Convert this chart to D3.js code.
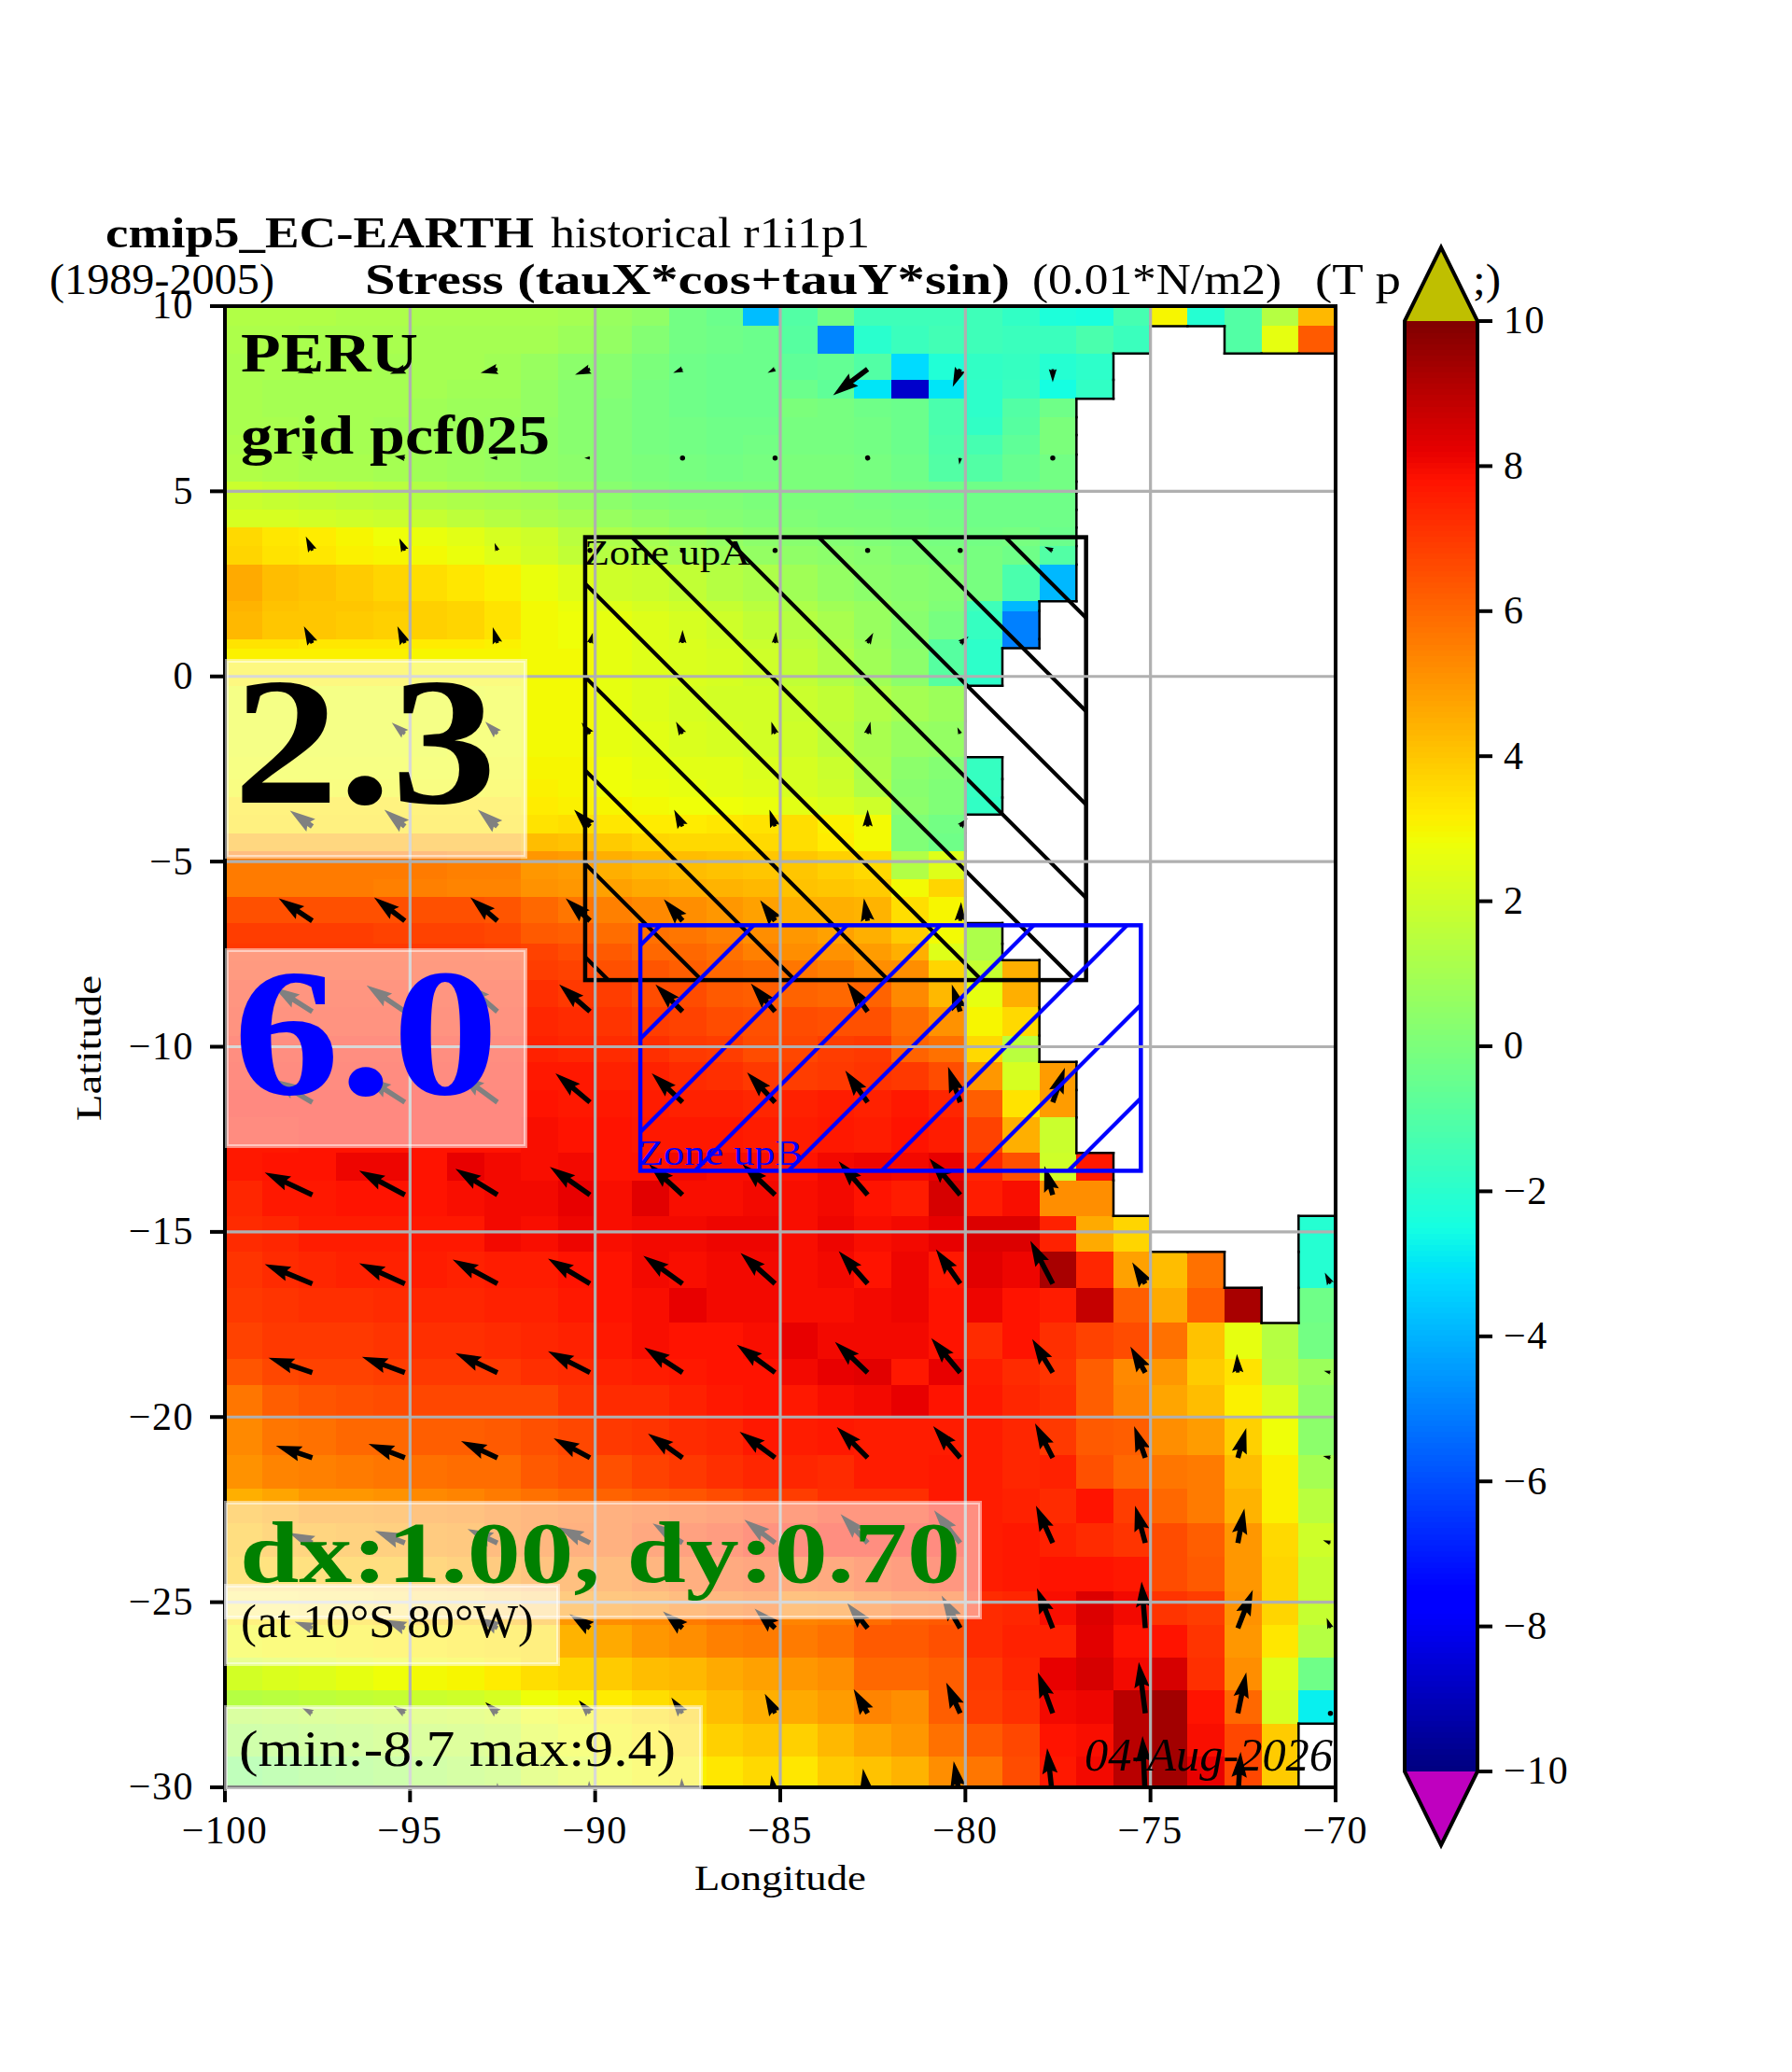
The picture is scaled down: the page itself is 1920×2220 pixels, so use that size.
<!DOCTYPE html>
<html>
<head>
  <meta charset="utf-8">
  <title>cmip5 EC-EARTH stress map</title>
  <script src="https://d3js.org/d3.v7.min.js"></script>
  <style>
    body { margin: 0; background: #fff; }
    text { font-family: "Liberation Serif", serif; fill: #000; }
  </style>
</head>
<body>
<div id="chart"></div>
<script>
// land cells are null
var _ = null;

// longitude of the left edge of the first cell, 1 degree wide cells
var lonEdges = d3.range(-100, -69, 1);

var latEdges = [10, 9.46, 8.72, 8.01, 7.5, 7, 6.52, 5.99, 5.26, 4.97, 4.5, 4.02, 3.52, 3.02, 2.03, 1.77, 1.01, 0.76,
  -0.25, -1.21, -2.18, -2.77, -3.27, -3.73, -4.23, -4.72, -5.48, -5.96, -6.66, -7.22, -7.66, -8.19, -8.94, -9.7,
  -10.41, -11.17, -11.91, -12.87, -13.61, -14.57, -15.54, -16.51, -17.46, -18.42, -19.13, -20.04, -21.02, -21.93,
  -22.86, -23.77, -24.71, -25.61, -26.49, -27.39, -28.28, -29.16, -30];

// one row per latitude band, north to south
var stress = [
  [1.3,1.3,1.3,1.2,1.2,1.1,1.1,1.1,1.1,1.0,0.7,0.5,-0.2,-0.4,-3.8,-1.0,-0.2,-1.5,-1.5,-1.5,-1.5,-1.8,-2.3,-2.4,-1.3,3.0,-2.1,-1.0,1.4,4.3],
  [1.2,1.2,1.1,1.1,1.1,1.0,1.0,1.0,1.0,0.8,0.6,0.2,-0.2,-0.3,-0.4,-0.9,-4.9,-2.0,-1.6,-1.4,-1.5,-1.6,-1.6,-1.2,-1.6,_,_,-1.0,2.6,6.3],
  [1.1,1.1,1.1,1.1,1.0,1.0,1.0,0.9,0.7,0.4,0.3,0.0,-0.3,-0.4,-0.4,-0.7,-0.6,-1.0,-3.2,-2.2,-1.8,-1.7,-2.1,-1.9,_,_,_,_,_,_],
  [1.1,1.0,1.0,1.0,1.0,1.0,0.9,0.9,0.6,0.3,0.2,-0.1,-0.3,-0.4,-0.4,-0.4,-0.7,-3.0,-8.7,-3.0,-1.9,-1.6,-2.5,-1.8,_,_,_,_,_,_],
  [1.1,1.0,1.0,1.0,1.0,0.9,0.8,0.8,0.6,0.3,0.1,-0.1,-0.3,-0.4,-0.4,0.0,-0.1,-0.3,-0.4,-1.2,-1.9,-1.0,-0.3,_,_,_,_,_,_,_],
  [1.1,1.1,1.0,1.0,0.9,0.9,0.8,0.7,0.5,0.3,0.1,-0.1,-0.2,-0.3,-0.3,-0.1,-0.1,-0.2,-0.4,-1.2,-1.8,-0.9,0.0,_,_,_,_,_,_,_],
  [1.2,1.1,1.1,1.0,1.0,0.9,0.8,0.7,0.5,0.3,0.1,-0.1,-0.2,-0.3,-0.2,-0.1,-0.1,-0.2,-0.4,-1.1,-1.3,-0.7,0.0,_,_,_,_,_,_,_],
  [1.3,1.2,1.1,1.1,1.0,0.9,0.8,0.7,0.5,0.4,0.1,0.0,-0.1,-0.2,-0.1,0.0,0.0,-0.1,-0.3,-1.0,-1.0,-0.5,-0.2,_,_,_,_,_,_,_],
  [1.9,1.8,1.7,1.6,1.5,1.3,1.1,1.0,0.9,0.6,0.3,0.1,0.0,0.0,0.0,0.0,0.0,-0.1,-0.2,-0.3,-0.3,-0.3,-0.2,_,_,_,_,_,_,_],
  [1.9,1.8,1.7,1.6,1.5,1.3,1.2,1.1,1.0,0.7,0.4,0.2,0.1,0.1,0.0,0.0,0.0,-0.1,-0.2,-0.3,-0.3,-0.3,-0.3,_,_,_,_,_,_,_],
  [2.2,2.2,2.1,2.0,1.9,1.8,1.6,1.4,1.2,1.0,0.7,0.5,0.3,0.2,0.1,0.1,0.0,0.0,-0.1,-0.2,-0.3,-0.3,-0.3,_,_,_,_,_,_,_],
  [3.6,3.3,3.2,3.0,2.8,2.7,2.5,2.2,2.0,1.5,1.2,1.0,0.8,0.6,0.4,0.3,0.2,0.1,0.0,-0.1,-0.2,-0.1,-0.4,_,_,_,_,_,_,_],
  [3.7,3.4,3.3,3.1,3.0,2.9,2.7,2.4,2.1,1.7,1.4,1.2,1.0,0.8,0.6,0.5,0.4,0.3,0.1,0.0,-0.1,-0.3,-1.0,_,_,_,_,_,_,_],
  [4.6,4.2,4.1,3.9,3.7,3.5,3.3,3.1,2.7,2.4,2.0,1.9,1.7,1.4,1.2,0.9,0.6,0.4,0.3,0.2,-0.1,-1.2,-3.9,_,_,_,_,_,_,_],
  [4.4,4.1,4.0,4.0,3.9,3.8,3.7,3.4,2.9,2.7,2.4,2.2,2.0,1.8,1.5,1.2,0.9,0.7,0.4,0.1,-1.5,-3.9,_,_,_,_,_,_,_,_],
  [4.3,4.0,4.0,3.9,3.8,3.8,3.7,3.4,2.9,2.8,2.6,2.4,2.2,2.0,1.7,1.4,1.1,0.7,0.3,-0.1,-1.7,-5.0,_,_,_,_,_,_,_,_],
  [3.4,3.4,3.3,3.3,3.3,3.2,3.2,3.1,2.9,2.8,2.6,2.4,2.3,2.1,1.9,1.6,1.2,0.8,0.3,-0.9,-1.9,-5.0,_,_,_,_,_,_,_,_],
  [3.1,3.1,3.1,3.1,3.1,3.0,3.0,3.0,2.9,2.9,2.6,2.4,2.3,2.2,2.0,1.7,1.3,0.9,0.4,-0.9,-1.9,_,_,_,_,_,_,_,_,_],
  [2.7,2.7,2.7,2.7,2.7,2.7,2.7,2.8,2.9,2.9,2.6,2.4,2.2,2.1,2.1,1.9,1.7,1.3,1.0,0.8,_,_,_,_,_,_,_,_,_,_],
  [2.7,2.7,2.7,2.7,2.7,2.7,2.8,2.8,2.9,2.9,2.6,2.5,2.3,2.2,2.1,2.0,1.6,1.1,0.7,0.6,_,_,_,_,_,_,_,_,_,_],
  [2.8,2.8,2.8,2.8,2.8,2.8,2.8,2.9,3.0,3.0,2.8,2.6,2.5,2.5,2.3,2.2,1.9,1.2,0.4,0.2,-1.7,_,_,_,_,_,_,_,_,_],
  [2.9,2.9,2.9,2.9,2.9,2.9,2.9,3.0,3.1,3.0,2.8,2.7,2.6,2.5,2.4,2.2,2.0,1.3,0.3,0.1,-1.7,_,_,_,_,_,_,_,_,_],
  [3.3,3.3,3.3,3.3,3.3,3.3,3.3,3.3,3.2,3.1,3.0,2.9,2.8,2.8,2.7,2.5,2.3,2.0,0.4,0.1,-1.8,_,_,_,_,_,_,_,_,_],
  [3.4,3.4,3.4,3.4,3.4,3.4,3.4,3.4,3.4,3.5,3.3,3.2,3.2,3.3,3.4,3.5,3.1,2.9,0.1,-0.2,_,_,_,_,_,_,_,_,_,_],
  [4.5,4.5,4.5,4.5,4.5,4.5,4.5,4.5,4.2,4.1,3.9,3.7,3.6,3.6,3.6,3.5,3.2,2.9,0.1,-0.3,_,_,_,_,_,_,_,_,_,_],
  [5.6,5.6,5.6,5.6,5.6,5.6,5.5,5.5,5.0,4.9,4.5,4.3,4.2,4.1,4.0,4.0,3.8,3.6,1.3,2.4,_,_,_,_,_,_,_,_,_,_],
  [5.6,5.6,5.6,5.6,5.5,5.5,5.4,5.4,5.1,5.0,4.8,4.6,4.5,4.4,4.3,4.1,4.0,3.9,2.9,3.7,_,_,_,_,_,_,_,_,_,_],
  [6.5,6.5,6.5,6.5,6.5,6.5,6.5,6.4,6.0,5.7,5.5,5.3,5.2,5.0,4.8,4.5,4.5,4.4,3.5,3.0,_,_,_,_,_,_,_,_,_,_],
  [6.9,6.9,6.9,6.9,6.8,6.8,6.8,6.7,6.3,6.2,5.9,5.8,5.7,5.5,5.2,5.0,4.8,4.5,3.9,2.9,1.2,_,_,_,_,_,_,_,_,_],
  [7.0,7.0,7.0,7.0,7.0,7.0,7.0,6.9,6.8,6.6,6.3,6.0,6.0,5.8,5.5,5.2,5.1,4.9,4.5,2.4,1.2,_,_,_,_,_,_,_,_,_],
  [7.1,7.1,7.1,7.1,7.1,7.1,7.1,7.1,6.9,6.8,6.5,6.4,6.2,6.0,5.9,5.7,5.5,5.2,5.2,3.7,1.8,4.5,_,_,_,_,_,_,_,_],
  [7.3,7.3,7.3,7.3,7.3,7.3,7.3,7.3,7.2,7.0,6.9,6.6,6.6,6.3,6.2,6.1,6.0,6.1,5.3,4.3,2.6,4.5,_,_,_,_,_,_,_,_],
  [7.4,7.4,7.4,7.4,7.4,7.4,7.4,7.4,7.4,7.3,7.1,6.9,6.8,6.6,6.5,6.6,6.5,6.5,5.9,5.1,3.0,3.6,_,_,_,_,_,_,_,_],
  [7.6,7.6,7.6,7.6,7.6,7.6,7.6,7.6,7.5,7.4,7.3,7.2,7.0,6.9,6.6,6.7,6.9,7.0,6.1,5.8,3.6,1.5,_,_,_,_,_,_,_,_],
  [7.7,7.7,7.7,7.7,7.7,7.7,7.7,7.7,7.7,7.7,7.5,7.5,7.3,7.2,7.0,6.9,7.0,7.1,7.0,6.6,5.0,2.2,4.9,_,_,_,_,_,_,_],
  [7.8,7.8,7.8,7.8,7.8,7.8,7.8,7.8,7.8,7.7,7.7,7.6,7.5,7.5,7.4,7.5,7.6,7.5,7.7,7.4,6.2,3.4,4.9,_,_,_,_,_,_,_],
  [7.7,7.7,7.8,7.8,7.8,7.8,7.8,7.8,7.9,7.8,7.8,7.7,7.7,7.7,7.6,7.6,7.7,7.6,7.8,7.6,6.8,4.5,1.9,_,_,_,_,_,_,_],
  [7.7,7.8,7.8,8.1,8.1,7.8,8.2,8.0,7.9,8.0,7.8,7.8,8.0,7.9,7.9,7.8,8.0,8.1,8.0,8.2,7.4,6.5,2.0,7.7,_,_,_,_,_,_],
  [7.4,7.7,7.7,7.8,7.8,7.8,7.9,8.0,8.0,8.2,7.9,8.3,7.9,7.9,8.0,7.9,8.0,7.8,7.6,8.5,7.6,7.9,5.2,5.2,_,_,_,_,_,_],
  [7.3,7.4,7.6,7.6,7.6,7.7,7.7,8.0,7.9,8.1,7.9,8.0,8.0,8.1,8.1,7.9,8.1,7.9,8.0,8.2,8.4,8.4,7.5,4.6,3.7,_,_,_,_,-2.1],
  [7.1,7.3,7.4,7.5,7.5,7.6,7.5,7.6,7.6,7.8,7.8,8.0,7.9,8.0,8.0,7.9,8.0,7.8,8.1,7.7,8.3,8.1,9.3,7.4,4.8,4.2,5.8,_,_,-2.1],
  [7.0,7.1,7.2,7.2,7.3,7.4,7.4,7.5,7.5,7.7,7.8,7.9,8.2,8.0,8.0,7.9,7.9,8.0,8.1,7.8,8.1,7.8,7.6,8.8,6.2,4.6,6.2,9.3,_,-0.3],
  [6.8,7.0,7.0,7.0,7.1,7.2,7.2,7.3,7.4,7.5,7.7,7.9,7.8,7.8,7.9,8.2,8.0,8.0,8.0,7.8,7.3,7.8,7.2,6.8,6.6,5.8,4.1,2.6,1.4,-0.2],
  [6.4,6.7,6.8,6.8,6.9,7.0,7.0,7.0,7.2,7.3,7.5,7.6,7.7,7.8,7.8,8.0,8.2,8.3,7.7,8.2,7.6,7.3,7.1,6.2,5.3,5.0,3.9,3.4,1.5,0.8],
  [5.7,6.2,6.4,6.5,6.6,6.7,6.7,6.7,6.7,7.1,7.3,7.3,7.5,7.7,7.8,7.7,7.9,8.0,8.2,7.8,7.7,7.4,7.2,6.2,5.4,4.7,4.2,3.1,2.3,0.5],
  [5.3,5.7,5.8,6.0,6.0,6.2,6.2,6.3,6.5,6.7,7.0,7.1,7.3,7.4,7.7,7.6,7.7,7.6,7.6,7.6,7.6,7.4,7.0,6.3,6.2,5.2,4.9,3.8,2.8,0.4],
  [5.1,5.4,5.5,5.6,5.7,5.8,5.9,5.9,6.3,6.5,6.5,6.8,7.0,7.2,7.4,7.4,7.3,7.6,7.6,7.7,7.6,7.4,7.5,6.5,6.0,5.7,5.6,4.2,3.1,1.0],
  [4.5,4.7,5.0,5.0,5.1,5.3,5.4,5.6,5.8,6.0,6.1,6.3,6.4,6.6,6.8,6.9,7.2,7.2,7.2,7.7,7.6,7.5,7.3,7.8,6.9,6.0,5.6,4.4,3.1,1.5],
  [4.2,4.5,4.6,4.7,4.8,5.0,5.1,5.6,5.8,6.1,6.1,6.5,6.8,7.0,7.4,7.5,7.6,7.6,7.7,7.7,7.6,7.7,7.5,7.3,7.1,6.6,6.2,5.0,3.6,2.0],
  [4.0,4.0,4.1,4.2,4.2,4.5,4.7,5.0,5.3,5.5,5.6,5.9,6.2,6.4,6.6,6.3,6.4,6.7,6.9,7.2,7.6,7.7,7.8,7.8,7.7,6.6,6.3,5.0,3.7,1.8],
  [3.4,3.4,3.6,3.6,3.8,3.9,4.0,4.3,4.5,5.0,5.2,5.3,5.6,5.8,6.0,5.4,5.5,5.9,6.2,6.3,7.3,7.4,7.9,8.4,8.0,7.1,6.9,5.1,3.7,1.8],
  [2.9,3.0,3.0,3.1,3.2,3.2,3.3,3.4,3.5,4.4,4.6,5.0,5.2,5.5,5.6,5.6,5.8,6.3,6.3,6.5,7.3,7.5,7.5,8.3,7.8,7.8,7.1,5.0,3.3,1.4],
  [2.1,2.3,2.4,2.6,2.8,2.9,3.0,3.2,3.5,3.7,3.9,4.2,4.3,4.6,4.8,5.0,5.2,6.0,6.0,6.2,7.0,7.4,8.2,8.5,8.0,8.5,7.2,5.2,2.4,-0.3],
  [1.4,1.5,1.6,1.7,1.8,1.9,2.0,2.2,2.8,3.0,3.2,3.5,3.8,4.2,4.5,4.6,4.9,5.4,5.2,6.2,6.9,7.2,8.0,8.1,9.0,9.4,7.8,6.0,2.2,-2.8],
  [0.9,1.0,1.1,1.2,1.4,1.5,1.6,1.8,2.4,2.8,3.0,3.2,3.5,3.8,4.0,3.8,4.3,4.7,5.0,5.8,6.3,6.7,7.8,7.9,9.0,9.4,7.9,6.7,3.9,_],
  [0.1,0.3,0.5,0.6,0.8,1.0,1.2,1.4,2.0,2.4,2.8,3.0,3.1,3.3,3.6,3.3,3.9,4.1,4.4,5.2,5.7,6.6,7.7,8.0,9.0,9.4,8.2,6.7,3.9,_]
];

// wind stress arrows, tail at each lon/lat
var quiverLon = [-97.64, -95.14, -92.64, -90.14, -87.64, -85.14, -82.64, -80.14, -77.64, -75.14, -72.64, -70.14];
var quiverLat = [8.3, 5.9, 3.4, 0.9, -1.55, -4.05, -6.6, -9.05, -11.5, -14, -16.4, -18.8, -21.1, -23.4, -25.7, -28, -30.3];
var quiverU = [
  [-1.6,-1.6,-1.8,-1.6,-1.0,-0.8,-3.7,-0.8,0,_,_,_],
  [-1.1,-1.1,-0.8,-0.6,0,0,-0.3,-0.1,0,_,_,_],
  [-0.7,-0.6,-0.3,0,0,0,0,-0.3,-0.9,_,_,_],
  [-0.9,-0.8,-0.5,0.3,0,0.1,0.6,0.9,_,_,_,_],
  [-1.2,-1.4,-1.3,-0.9,-0.7,-0.4,0.3,-0.3,_,_,_,_],
  [-2.4,-2.2,-2.1,-1.7,-0.9,-0.6,0,0.8,_,_,_,_],
  [-3.6,-3.3,-2.9,-2.6,-2.0,-1.6,-0.4,0.1,_,_,_,_],
  [-4.1,-4.1,-3.5,-3.3,-2.9,-2.6,-2.2,-0.9,_,_,_,_],
  [-4.3,-4.2,-4.1,-3.7,-3.3,-3.0,-2.4,-1.3,1.3,_,_,_],
  [-5.1,-4.9,-4.5,-4.3,-3.6,-3.5,-3.1,-3.3,-0.9,_,_,_],
  [-5.1,-4.9,-4.8,-4.5,-4.2,-3.7,-3.1,-2.6,-2.4,-1.4,_,-0.6],
  [-4.7,-4.6,-4.5,-4.5,-4.1,-4.1,-3.5,-3.1,-2.2,-1.6,-0.1,-0.7],
  [-3.9,-3.9,-3.9,-3.9,-3.7,-3.8,-3.3,-2.9,-1.9,-1.2,0.9,-0.8],
  [-2.5,-3.2,-3.2,-3.4,-3.2,-3.3,-2.9,-2.8,-1.8,-1.1,0.7,-0.8],
  [-1.9,-2.2,-2.0,-2.2,-2.1,-2.2,-2.2,-2.0,-1.7,-0.4,1.6,-0.4],
  [-1.1,-1.2,-1.3,-1.2,-1.2,-1.1,-1.5,-1.5,-1.6,-0.7,0.9,0],
  [0,0,0,-0.1,-0.1,-0.4,-0.5,-0.7,-0.6,-0.3,0.3,_]
];
var quiverV = [
  [-0.4,-0.5,-0.4,-0.6,-0.4,-0.4,-2.8,-1.9,-1.4,_,_,_],
  [0.3,0.2,0,0,0,0,-0.1,-0.7,0,_,_,_],
  [1.5,1.3,0.8,0.3,0.1,0,0,0,0.4,_,_,_],
  [1.8,1.8,1.7,1.1,1.4,1.2,1.1,0.7,_,_,_,_],
  [0.9,1.2,1.3,1.2,1.3,1.3,1.3,0.7,_,_,_,_],
  [1.7,1.8,1.8,1.8,1.8,1.8,1.8,0.9,_,_,_,_],
  [2.4,2.5,2.5,2.4,2.3,2.2,2.4,2.0,_,_,_,_],
  [2.6,2.8,3.0,2.9,2.9,3.0,3.1,2.9,_,_,_,_],
  [2.5,2.7,3.0,3.1,3.1,3.2,3.4,3.8,3.7,_,_,_],
  [2.4,2.6,2.8,3.0,3.3,3.3,3.6,3.9,3.1,_,_,_],
  [2.1,2.2,2.6,2.7,3.0,3.3,3.5,3.7,4.6,2.3,_,1.2],
  [1.6,1.7,2.1,2.3,2.7,3.0,3.3,3.7,3.6,2.8,2.0,0.2],
  [1.3,1.5,1.8,2.1,2.6,2.8,3.3,3.4,3.7,3.4,3.2,0.2],
  [1.1,1.3,1.5,1.7,2.1,2.5,3.1,3.5,4.0,4.0,3.7,0.3],
  [0.7,0.9,1.2,1.5,1.8,2.1,2.7,3.5,4.3,5.0,4.1,1.1],
  [0.6,0.8,1.2,1.4,1.7,2.1,2.6,3.3,4.4,5.5,4.4,0.1],
  [1.2,1.2,1.7,1.9,2.2,2.5,3.2,4.0,5.4,6.7,5.0,_]
];

// [lon min, lon max, lat min, lat max]
var zoneA = [-90.27, -76.74, -8.2, 3.76];
var zoneB = [-88.78, -75.26, -13.35, -6.72];

var xTicks = [-100, -95, -90, -85, -80, -75, -70];
var yTicks = [-30, -25, -20, -15, -10, -5, 0, 5, 10];
var cbarTicks = [-10, -8, -6, -4, -2, 0, 2, 4, 6, 8, 10];

var svg = d3.select("#chart").append("svg")
  .attr("width", 1920).attr("height", 2220);

var plot = {left: 241, right: 1431, top: 328, bottom: 1915};
var x = d3.scaleLinear().domain([-100, -70]).range([plot.left, plot.right]);
var y = d3.scaleLinear().domain([-30, 10]).range([plot.bottom, plot.top]);

// matplotlib jet, split by channel
var jetR = d3.scaleLinear().domain([0, 0.35, 0.66, 0.89, 1]).range([0, 0, 1, 1, 0.5]);
var jetG = d3.scaleLinear().domain([0, 0.125, 0.375, 0.64, 0.91, 1]).range([0, 0, 1, 1, 0, 0]);
var jetB = d3.scaleLinear().domain([0, 0.11, 0.34, 0.65, 1]).range([0.5, 1, 1, 0, 0]);
var norm = d3.scaleLinear().domain([-10, 10]).range([0, 1]).clamp(true);
function jet(v) {
  var t = norm(v);
  return d3.rgb(jetR(t) * 255, jetG(t) * 255, jetB(t) * 255).formatHex();
}

var defs = svg.append("defs");
defs.append("clipPath").attr("id", "axclip").append("rect")
  .attr("x", plot.left).attr("y", plot.top)
  .attr("width", plot.right - plot.left).attr("height", plot.bottom - plot.top);

// cells
var cells = [];
stress.forEach(function(row, r) {
  row.forEach(function(v, c) {
    if (v != null) cells.push({r: r, c: c, v: v});
  });
});
svg.append("g").selectAll("rect").data(cells).enter().append("rect")
  .attr("x", function(d) { return x(lonEdges[d.c]); })
  .attr("y", function(d) { return y(latEdges[d.r]); })
  .attr("width", function(d) { return x(lonEdges[d.c + 1]) - x(lonEdges[d.c]); })
  .attr("height", function(d) { return y(latEdges[d.r + 1]) - y(latEdges[d.r]); })
  .attr("fill", function(d) { return jet(d.v); })
  .attr("shape-rendering", "crispEdges");

// arrows like matplotlib quiver, 10px per unit
var arrowK = 10, arrowW = 5.5;
function arrowPath(u, v) {
  var L = Math.sqrt(u * u + v * v) * arrowK;
  if (L < arrowW) {
    return d3.arc()({innerRadius: 0, outerRadius: arrowW / 2, startAngle: 0, endAngle: 2 * Math.PI});
  }
  var s = L < 5 * arrowW ? L / (5 * arrowW) : 1;
  var len = Math.max(L, 5 * arrowW);
  var w = arrowW * s, tot = len * s;
  return "M0," + (-w / 2) + "L" + (tot - 4.5 * w) + "," + (-w / 2) + "L" + (tot - 5 * w) + "," + (-1.5 * w) +
    "L" + tot + ",0L" + (tot - 5 * w) + "," + (1.5 * w) + "L" + (tot - 4.5 * w) + "," + (w / 2) + "L0," + (w / 2) + "Z";
}
var arrows = [];
quiverLat.forEach(function(lat, r) {
  quiverLon.forEach(function(lon, c) {
    if (quiverU[r][c] != null) arrows.push({lon: lon, lat: lat, u: quiverU[r][c], v: quiverV[r][c]});
  });
});
svg.append("g").attr("clip-path", "url(#axclip)").selectAll("path").data(arrows).enter().append("path")
  .attr("d", function(d) { return arrowPath(d.u, d.v); })
  .attr("transform", function(d) {
    var a = Math.atan2(-d.v, d.u) * 180 / Math.PI;
    return "translate(" + x(d.lon) + "," + y(d.lat) + ") rotate(" + a + ")";
  })
  .attr("fill", "#000");

// coast outline, wherever a cell touches a land cell
var coast = [];
function isLand(r, c) {
  return r >= 0 && r < stress.length && c >= 0 && c < 30 && stress[r][c] == null;
}
cells.forEach(function(d) {
  if (isLand(d.r - 1, d.c)) coast.push([d.c, d.r, d.c + 1, d.r]);
  if (isLand(d.r + 1, d.c)) coast.push([d.c, d.r + 1, d.c + 1, d.r + 1]);
  if (isLand(d.r, d.c - 1)) coast.push([d.c, d.r, d.c, d.r + 1]);
  if (isLand(d.r, d.c + 1)) coast.push([d.c + 1, d.r, d.c + 1, d.r + 1]);
});
svg.append("g").selectAll("line").data(coast).enter().append("line")
  .attr("x1", function(d) { return x(lonEdges[d[0]]); })
  .attr("y1", function(d) { return y(latEdges[d[1]]); })
  .attr("x2", function(d) { return x(lonEdges[d[2]]); })
  .attr("y2", function(d) { return y(latEdges[d[3]]); })
  .attr("stroke", "#000").attr("stroke-width", 2.5).attr("stroke-linecap", "square");

// hatched zones
function drawZone(zone, id, color, sign, c0) {
  var x0 = x(zone[0]), x1 = x(zone[1]), y0 = y(zone[3]), y1 = y(zone[2]);
  defs.append("clipPath").attr("id", id).append("rect")
    .attr("x", x0).attr("y", y0).attr("width", x1 - x0).attr("height", y1 - y0);
  var g = svg.append("g");
  var hatch = g.append("g").attr("clip-path", "url(#" + id + ")");
  d3.range(-12, 12).forEach(function(k) {
    var c = c0 + 100 * k;
    hatch.append("line")
      .attr("x1", sign > 0 ? c + y0 : c - y0).attr("y1", y0)
      .attr("x2", sign > 0 ? c + y1 : c - y1).attr("y2", y1)
      .attr("stroke", color).attr("stroke-width", 4.2);
  });
  g.append("rect").attr("x", x0).attr("y", y0).attr("width", x1 - x0).attr("height", y1 - y0)
    .attr("fill", "none").attr("stroke", color).attr("stroke-width", 4.5);
}
drawZone(zoneA, "clipA", "#000", 1, 101.6);
drawZone(zoneB, "clipB", "#00f", -1, 2199);

function label(px, py, str, size, width, opt) {
  opt = opt || {};
  var t = svg.append("text").attr("x", px).attr("y", py).text(str)
    .attr("font-size", size)
    .attr("font-weight", opt.bold ? "bold" : "normal")
    .attr("font-style", opt.italic ? "italic" : "normal")
    .style("fill", opt.color || "#000");
  if (width) t.attr("textLength", width).attr("lengthAdjust", "spacingAndGlyphs");
  return t;
}
label(626, 605, "Zone upA", 38, 178);
label(684, 1248, "Zone upB", 38, 176, {color: "#00f"});

// grid on top of the marks
var grid = svg.append("g").attr("stroke", "#b0b0b0").attr("stroke-width", 3.2);
xTicks.slice(1, -1).forEach(function(t) {
  grid.append("line").attr("x1", x(t)).attr("x2", x(t)).attr("y1", plot.top).attr("y2", plot.bottom);
});
yTicks.slice(1, -1).forEach(function(t) {
  grid.append("line").attr("x1", plot.left).attr("x2", plot.right).attr("y1", y(t)).attr("y2", y(t));
});

// axes
function tickFmt(d) { return d < 0 ? "\u2212" + Math.abs(d) : "" + d; }
function styleAxis(g) {
  g.select(".domain").remove();
  g.selectAll("line").attr("stroke", "#000").attr("stroke-width", 4);
  g.selectAll("text").attr("font-size", 42).style("font-family", "Liberation Serif").style("letter-spacing", "1.5px");
}
svg.append("g").attr("transform", "translate(0," + plot.bottom + ")")
  .call(d3.axisBottom(x).tickValues(xTicks).tickFormat(tickFmt).tickSize(16).tickPadding(14).offset(0))
  .call(styleAxis);
svg.append("g").attr("transform", "translate(" + plot.left + ",0)")
  .call(d3.axisLeft(y).tickValues(yTicks).tickFormat(tickFmt).tickSize(16).tickPadding(17).offset(0))
  .call(styleAxis);
svg.append("rect").attr("x", plot.left).attr("y", plot.top)
  .attr("width", plot.right - plot.left).attr("height", plot.bottom - plot.top)
  .attr("fill", "none").attr("stroke", "#000").attr("stroke-width", 4);

label(744, 2025, "Longitude", 37, 184);
svg.append("text").text("Latitude")
  .attr("transform", "translate(108,1123) rotate(-90)")
  .attr("text-anchor", "middle").attr("font-size", 37)
  .attr("textLength", 156).attr("lengthAdjust", "spacingAndGlyphs");

// titles
label(113, 265, "cmip5_EC-EARTH", 46, 459, {bold: true});
label(590, 265, "historical r1i1p1", 46, 342);
label(53, 315, "(1989-2005)", 46, 241);
label(391, 315, "Stress (tauX*cos+tauY*sin)", 46, 691, {bold: true});
label(1106, 315, "(0.01*N/m2)", 46, 267);
// middle of this one is hidden by the colorbar tip
label(1409, 315, "(T p", 46, 92);
label(1578, 315, ";)", 46, 30);

// white boxes over the map
function box(x0, y0, x1, y1) {
  svg.append("rect").attr("x", x0).attr("y", y0).attr("width", x1 - x0).attr("height", y1 - y0)
    .attr("fill", "#fff").attr("fill-opacity", 0.5)
    .attr("stroke", "#fff").attr("stroke-opacity", 0.5).attr("stroke-width", 4);
}
label(258, 398, "PERU", 60, 190, {bold: true});
label(258, 486, "grid pcf025", 60, 331, {bold: true});
box(243, 708, 563, 918);
label(250, 860, "2.3", 195, 282, {bold: true});
box(243, 1018, 563, 1228);
label(250, 1172, "6.0", 195, 284, {bold: true, color: "#00f"});
box(242, 1610, 1050, 1733);
label(257, 1695, "dx:1.00, dy:0.70", 94, 772, {bold: true, color: "#008000"});
box(242, 1699, 598, 1783);
label(258, 1754, "(at 10\u00b0S 80\u00b0W)", 50, 314);
box(242, 1829, 751, 1917);
label(256, 1892, "(min:-8.7 max:9.4)", 55, 468);
label(1162, 1897, "04-Aug-2026", 50, 266, {italic: true});

// colorbar
var cb = {left: 1505, right: 1583, top: 344, bottom: 1898, apexTop: 265, apexBottom: 1977};
var cy = d3.scaleLinear().domain([-10, 10]).range([cb.bottom, cb.top]);
var cbar = svg.append("g");
var levels = d3.range(256).map(function(i) { return -10 + 20 * i / 256; });
cbar.selectAll("rect").data(levels).enter().append("rect")
  .attr("x", cb.left).attr("width", cb.right - cb.left)
  .attr("y", function(d) { return cy(d + 20 / 256); })
  .attr("height", function(d) { return cy(d) - cy(d + 20 / 256) + 0.5; })
  .attr("fill", function(d) { return jet(d + 10 / 256); })
  .attr("shape-rendering", "crispEdges");
var mid = (cb.left + cb.right) / 2;
cbar.append("path").attr("d", "M" + cb.left + "," + cb.top + "L" + mid + "," + cb.apexTop + "L" + cb.right + "," + cb.top + "Z")
  .attr("fill", "#bfbf00");
cbar.append("path").attr("d", "M" + cb.left + "," + cb.bottom + "L" + mid + "," + cb.apexBottom + "L" + cb.right + "," + cb.bottom + "Z")
  .attr("fill", "#bf00bf");
cbar.append("path")
  .attr("d", "M" + cb.left + "," + cb.top + "L" + mid + "," + cb.apexTop + "L" + cb.right + "," + cb.top +
    "L" + cb.right + "," + cb.bottom + "L" + mid + "," + cb.apexBottom + "L" + cb.left + "," + cb.bottom + "Z")
  .attr("fill", "none").attr("stroke", "#000").attr("stroke-width", 4);
svg.append("g").attr("transform", "translate(" + cb.right + ",0)")
  .call(d3.axisRight(cy).tickValues(cbarTicks).tickFormat(tickFmt).tickSize(16).tickPadding(12).offset(0))
  .call(styleAxis);
</script>
</body>
</html>
